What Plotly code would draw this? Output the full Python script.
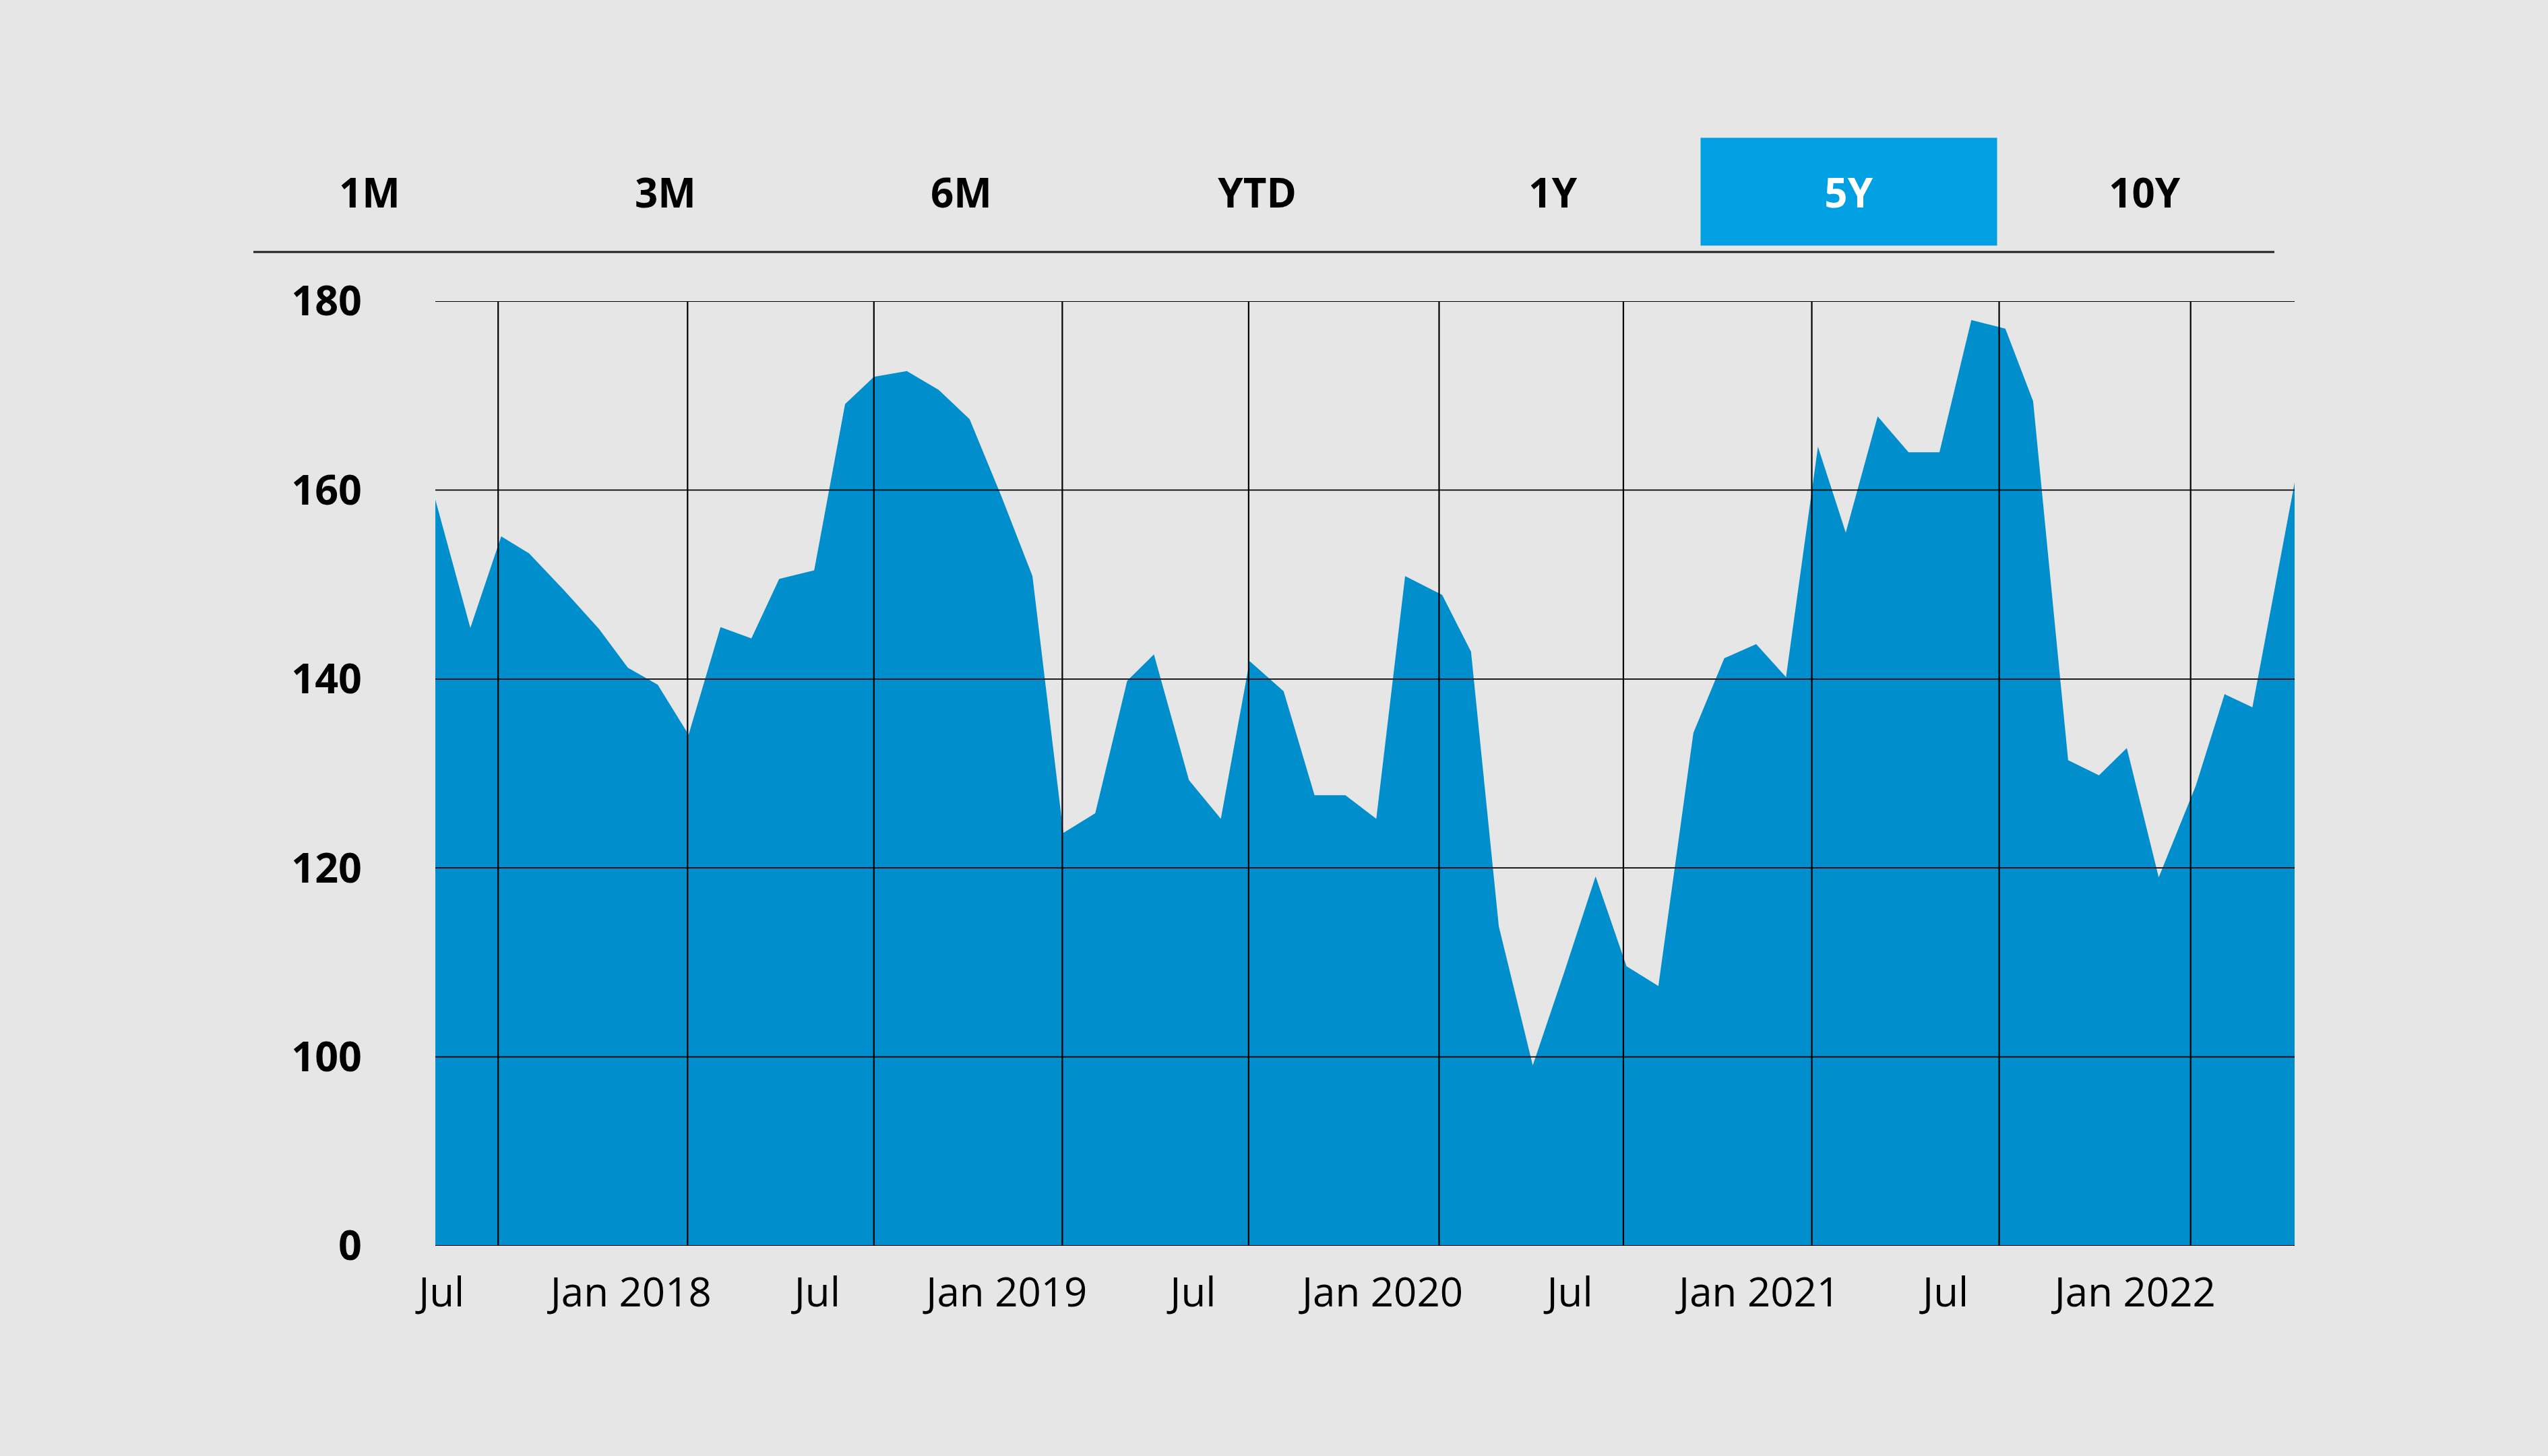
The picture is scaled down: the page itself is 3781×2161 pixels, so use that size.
import plotly.graph_objects as go

# ---- data ----
dates = ["2017-06-25", "2017-07-29", "2017-08-28", "2017-09-24", "2017-10-28", "2017-12-01", "2017-12-29",
         "2018-01-27", "2018-02-26", "2018-03-29", "2018-04-28", "2018-05-25", "2018-06-28", "2018-07-28",
         "2018-08-25", "2018-09-26", "2018-10-27", "2018-11-26", "2018-12-27",
         "2019-01-26", "2019-02-25", "2019-03-28", "2019-04-28", "2019-05-24", "2019-06-27", "2019-07-28",
         "2019-08-25", "2019-09-27", "2019-10-27", "2019-11-26", "2019-12-26",
         "2020-01-23", "2020-02-28", "2020-03-27", "2020-04-23", "2020-05-26", "2020-06-26", "2020-07-26",
         "2020-08-25", "2020-09-25", "2020-10-29", "2020-11-28", "2020-12-29",
         "2021-01-27", "2021-02-27", "2021-03-26", "2021-04-26", "2021-05-26", "2021-06-25", "2021-07-26",
         "2021-08-28", "2021-09-24", "2021-10-28", "2021-11-27", "2021-12-24",
         "2022-01-24", "2022-03-01", "2022-03-29", "2022-04-25", "2022-06-05"]
values = [159.0, 145.4, 155.1, 153.3, 149.4, 145.3, 141.2, 139.4, 134.1, 145.5,
          144.3, 150.6, 151.5, 169.1, 172.0, 172.6, 170.6, 167.5, 159.3, 150.9,
          123.7, 125.8, 139.8, 142.6, 129.3, 125.2, 141.9, 138.7, 127.7, 127.7,
          125.2, 150.9, 148.9, 142.9, 113.8, 99.1, 109.1, 119.1, 109.6, 107.5,
          134.3, 142.2, 143.7, 140.2, 164.6, 155.5, 167.8, 164.0, 164.0, 178.0,
          177.1, 169.4, 131.4, 129.8, 132.7, 119.0, 128.7, 138.4, 137.0, 160.8]

# y axis is broken: the "0" label sits at the bottom of the visible band
y_tick_vals = [80, 100, 120, 140, 160, 180]
y_tick_text = ["0", "100", "120", "140", "160", "180"]

x_tick_dates = ["2017-07-01", "2018-01-01", "2018-07-01", "2019-01-01", "2019-07-01",
                "2020-01-01", "2020-07-01", "2021-01-01", "2021-07-01", "2022-01-01"]
x_tick_text = ["Jul", "Jan 2018", "Jul", "Jan 2019", "Jul", "Jan 2020", "Jul", "Jan 2021", "Jul", "Jan 2022"]

grid_dates = ["2017-08-25", "2018-02-25", "2018-08-25", "2019-02-24", "2019-08-24",
              "2020-02-25", "2020-08-22", "2021-02-21", "2021-08-22", "2022-02-24"]

range_buttons = ["1M", "3M", "6M", "YTD", "1Y", "5Y", "10Y"]
active_button = "5Y"

# ---- style ----
BG = "#e6e6e6"
FILL = "#008ecc"
ACTIVE = "#00a0e3"
FONT = "Open Sans"

W, H = 3781, 2161
ML, MR, MT, MB = 646, 376, 447, 312
PW = W - ML - MR
PH = H - MT - MB

fig = go.Figure()
fig.add_trace(go.Scatter(
    x=dates, y=values, mode="lines", fill="tozeroy",
    fillcolor=FILL, line=dict(width=0, color=FILL), hoverinfo="x+y", showlegend=False,
))

# gridlines drawn above the area (as in the reference)
for v in y_tick_vals:
    fig.add_shape(type="line", xref="paper", yref="y", x0=0, x1=1, y0=v, y1=v,
                  line=dict(color="#000000", width=1.8), layer="above")
for d in grid_dates:
    fig.add_shape(type="line", xref="x", yref="y", x0=d, x1=d, y0=y_tick_vals[0], y1=y_tick_vals[-1],
                  line=dict(color="#000000", width=2.2), layer="above")

# range selector look-alike
btn_w = 439
btn_h = 159
first_center_px = 548.5
btn_center_y_px = 284.5
for i, lab in enumerate(range_buttons):
    cx = (first_center_px + i * btn_w - ML) / PW
    cy = (H - MB - btn_center_y_px) / PH
    is_active = lab == active_button
    fig.add_annotation(
        xref="paper", yref="paper", x=cx, y=cy, xanchor="center", yanchor="middle",
        text=f"<b>{lab}</b>", showarrow=False, width=btn_w, height=btn_h, borderpad=0,
        bgcolor=ACTIVE if is_active else "rgba(0,0,0,0)",
        font=dict(family=FONT, size=60, color="#ffffff" if is_active else "#000000"),
    )

rule_y = (H - MB - 374) / PH
fig.add_shape(type="line", xref="paper", yref="paper",
              x0=(376 - ML) / PW, x1=(3375 - ML) / PW, y0=rule_y, y1=rule_y,
              line=dict(color="#1e1e1e", width=3))

fig.update_layout(
    width=W, height=H,
    margin=dict(l=ML, r=MR, t=MT, b=MB, autoexpand=False),
    paper_bgcolor=BG, plot_bgcolor=BG,
    font=dict(family=FONT, color="#000000"),
    showlegend=False,
)
fig.update_xaxes(
    type="date", range=[dates[0], dates[-1]],
    tickmode="array", tickvals=x_tick_dates, ticktext=x_tick_text,
    showgrid=False, zeroline=False, showline=False, ticks="",
    tickfont=dict(family=FONT, size=60, color="#000000"),
    ticklabelstandoff=29,
)
fig.update_yaxes(
    range=[y_tick_vals[0], y_tick_vals[-1]],
    tickmode="array", tickvals=y_tick_vals, ticktext=[f"<b>{t}</b>" for t in y_tick_text],
    showgrid=False, zeroline=False, showline=False, ticks="",
    tickfont=dict(family=FONT, size=61, color="#000000"),
    ticklabelstandoff=108,
)

fig.write_html("out.html", config={"displayModeBar": False},
               post_script="document.body.style.margin='0';document.body.style.overflow='hidden';")
